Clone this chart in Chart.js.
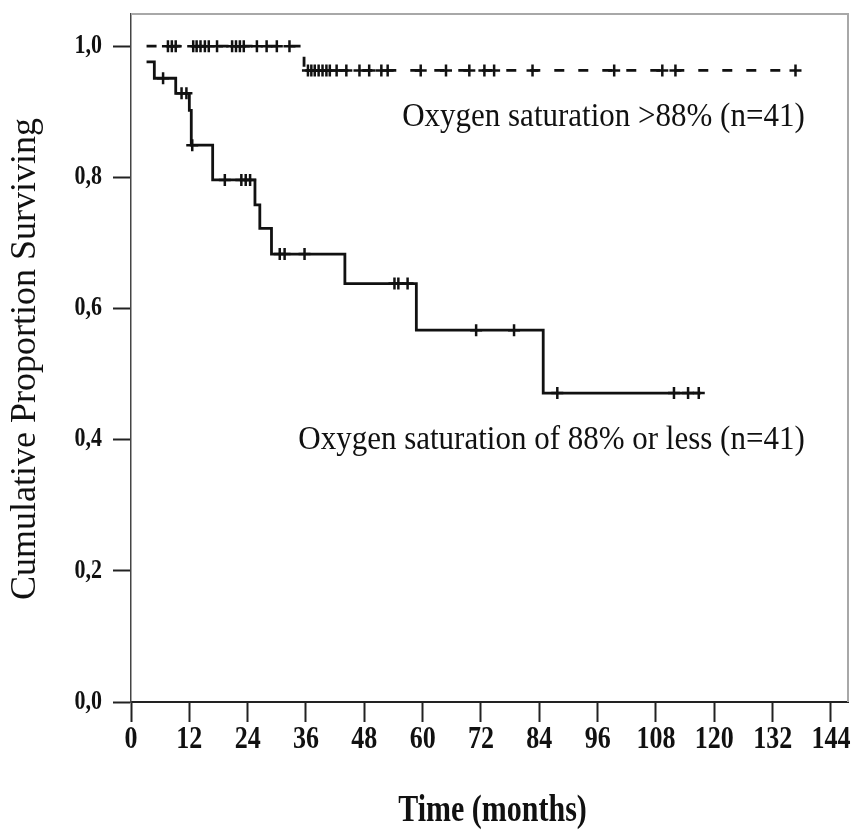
<!DOCTYPE html>
<html>
<head>
<meta charset="utf-8">
<script src="https://cdn.jsdelivr.net/npm/chart.js@4.4.1/dist/chart.umd.min.js"></script>
<style>
  html, body { margin: 0; padding: 0; background: #ffffff; }
  canvas { display: block; }
</style>
</head>
<body>
<canvas id="km" width="861" height="837"></canvas>
<script>
// Axis ticks
const xTickValues = [0, 12, 24, 36, 48, 60, 72, 84, 96, 108, 120, 132, 144];
const xTickLabels = ['0', '12', '24', '36', '48', '60', '72', '84', '96', '108', '120', '132', '144'];
const yTickValues = [0, 0.2, 0.4, 0.6, 0.8, 1.0];
const yTickLabels = ['0,0', '0,2', '0,4', '0,6', '0,8', '1,0'];

// Oxygen saturation of 88% or less: step points (months, cumulative survival)
const lowEventTimes = [3.2, 4.8, 9.2, 12.0, 12.4, 16.8, 25.5, 26.5, 28.9, 44.0, 58.7, 84.8];
const lowSurvival   = [0.976, 0.951, 0.928, 0.902, 0.849, 0.796, 0.758, 0.722, 0.683, 0.638, 0.567, 0.471];
const lowLastFollowUp = 117.2;
const lowCensorTimes = [6.6, 10.4, 11.4, 12.6, 19.3, 22.7, 23.6, 24.5, 30.6, 31.6, 35.7,
                        54.2, 55.0, 56.9, 71.0, 78.8, 87.7, 111.7, 114.6, 116.8];

// Oxygen saturation >88%
const highEventTimes = [3.2, 35.6];
const highSurvival   = [1.0, 0.963];
const highLastFollowUp = 136.7;
const highCensorTimes = [7.6, 8.4, 9.2, 12.8, 13.5, 14.3, 15.2, 16.0, 17.7, 20.8, 21.6, 22.4, 23.2,
                         25.9, 27.9, 30.0, 32.6, 36.4, 37.1, 37.8, 38.6, 39.4, 40.2, 40.9, 42.3,
                         44.3, 47.0, 49.0, 51.5, 52.8, 59.6, 64.8, 69.6, 72.7, 74.7, 82.6, 99.4,
                         109.3, 112.0, 136.7];

// Curve labels and axis titles
const groupLabels = ['Oxygen saturation >88% (n=41)', 'Oxygen saturation of 88% or less (n=41)'];
const xTitle = 'Time (months)';
const yTitle = 'Cumulative Proportion Surviving';

function stepPoints(times, surv, lastTime) {
  const pts = times.map((t, i) => ({ x: t, y: surv[i] }));
  pts.push({ x: lastTime, y: surv[surv.length - 1] });
  return pts;
}

function survivalAt(times, surv, t) {
  let s = surv[0];
  for (let i = 0; i < times.length; i++) {
    if (times[i] <= t + 1e-9) s = surv[i];
  }
  return s;
}

function censorPoints(censors, times, surv) {
  return censors.map(t => ({ x: t, y: survivalAt(times, surv, t) }));
}

const serif = '"Liberation Serif", "Times New Roman", serif';

// Text in the tall Times-like face used throughout the figure
function tallText(ctx, txt, x, y, font, align, sy, rot) {
  ctx.save();
  ctx.translate(x, y);
  if (rot) ctx.rotate(rot);
  ctx.scale(1, sy);
  ctx.font = font;
  ctx.textAlign = align;
  ctx.textBaseline = 'middle';
  ctx.fillText(txt, 0, 0);
  ctx.restore();
}

// Grey box round the plotting area (top and right sides)
const frame = {
  id: 'frame',
  afterDraw(chart) {
    const { ctx, chartArea: a } = chart;
    ctx.save();
    ctx.strokeStyle = '#a8a8a8';
    ctx.lineWidth = 2;
    ctx.beginPath();
    ctx.moveTo(a.left, a.top);
    ctx.lineTo(a.right, a.top);
    ctx.lineTo(a.right, a.bottom);
    ctx.stroke();
    ctx.restore();
  }
};

// Tick labels, axis titles and group labels
const texts = {
  id: 'texts',
  afterDraw(chart) {
    const { ctx, scales: { x, y }, chartArea: a } = chart;
    ctx.save();
    ctx.fillStyle = '#111';
    const tickY = a.bottom + 38;
    xTickValues.forEach((v, i) => {
      tallText(ctx, xTickLabels[i], x.getPixelForValue(v), tickY,
               'bold 26px ' + serif, 'center', 1.25);
    });
    yTickValues.forEach((v, i) => {
      tallText(ctx, yTickLabels[i], a.left - 29, y.getPixelForValue(v),
               'bold 22px ' + serif, 'right', 1.2);
    });
    tallText(ctx, xTitle, (a.left + a.right) / 2 + 3, a.bottom + 109,
             'bold 30px ' + serif, 'center', 1.25);
    tallText(ctx, yTitle, 26, (a.top + a.bottom) / 2 + 1,
             '36px ' + serif, 'center', 1.0, -Math.PI / 2);
    const anchors = [{ x: 138.6, y: 0.892 }, { x: 138.6, y: 0.40 }];
    groupLabels.forEach((txt, i) => {
      tallText(ctx, txt, x.getPixelForValue(anchors[i].x), y.getPixelForValue(anchors[i].y),
               '31px ' + serif, 'right', 1.12);
    });
    ctx.restore();
  }
};

new Chart(document.getElementById('km'), {
  type: 'line',
  data: {
    datasets: [
      {
        label: groupLabels[0],
        data: stepPoints(highEventTimes, highSurvival, highLastFollowUp),
        stepped: 'before',
        borderColor: '#111',
        borderWidth: 2.8,
        borderDash: [10, 14],
        pointRadius: 0,
        fill: false
      },
      {
        label: groupLabels[0] + ' censored',
        data: censorPoints(highCensorTimes, highEventTimes, highSurvival),
        showLine: false,
        pointStyle: 'cross',
        pointRadius: 6,
        pointBorderWidth: 2.5,
        pointBorderColor: '#111',
        borderColor: '#111'
      },
      {
        label: groupLabels[1],
        data: stepPoints(lowEventTimes, lowSurvival, lowLastFollowUp),
        stepped: 'before',
        borderColor: '#111',
        borderWidth: 2.8,
        pointRadius: 0,
        fill: false
      },
      {
        label: groupLabels[1] + ' censored',
        data: censorPoints(lowCensorTimes, lowEventTimes, lowSurvival),
        showLine: false,
        pointStyle: 'cross',
        pointRadius: 6,
        pointBorderWidth: 2.5,
        pointBorderColor: '#111',
        borderColor: '#111'
      }
    ]
  },
  options: {
    responsive: false,
    animation: false,
    layout: { padding: { top: 14, right: 13, bottom: 0, left: 0 } },
    plugins: {
      legend: { display: false },
      tooltip: { enabled: false }
    },
    scales: {
      x: {
        type: 'linear',
        min: 0,
        max: 147.5,
        afterBuildTicks: s => { s.ticks = xTickValues.map(v => ({ value: v })); },
        afterFit: s => { s.height = 837 - 702; s.paddingLeft = 0; s.paddingRight = 0; },
        ticks: { display: false },
        grid: {
          drawOnChartArea: false,
          drawTicks: true,
          tickLength: 20,
          tickColor: '#222',
          tickWidth: 2
        },
        border: { display: true, color: '#222', width: 2 },
        title: { display: false }
      },
      y: {
        type: 'linear',
        min: 0,
        max: 1.049,
        afterBuildTicks: s => { s.ticks = yTickValues.map(v => ({ value: v })); },
        afterFit: s => { s.width = 131; s.paddingTop = 0; s.paddingBottom = 0; },
        ticks: { display: false },
        grid: {
          drawOnChartArea: false,
          drawTicks: true,
          tickLength: 18,
          tickColor: '#222',
          tickWidth: 2
        },
        border: { display: true, color: '#444', width: 1.5 },
        title: { display: false }
      }
    }
  },
  plugins: [frame, texts]
});
</script>
</body>
</html>
